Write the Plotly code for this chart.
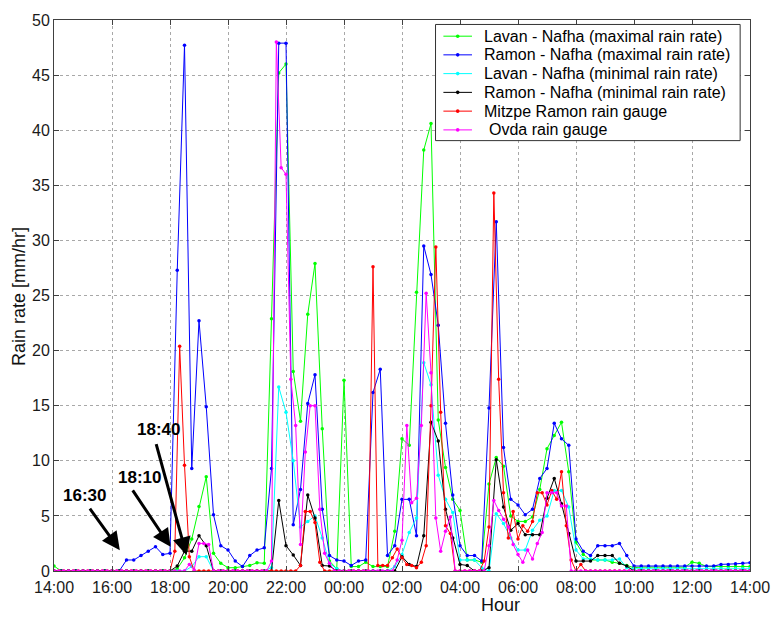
import plotly.graph_objects as go

# ---------------- data ----------------
tick_labels = ["14:00", "16:00", "18:00", "20:00", "22:00", "00:00", "02:00",
               "04:00", "06:00", "08:00", "10:00", "12:00", "14:00"]
tick_hours = [0, 2, 4, 6, 8, 10, 12, 14, 16, 18, 20, 22, 24]

LINK_STEP_MIN = 15   # microwave links sampled every 15 min from 14:00
GAUGE_STEP_MIN = 10  # rain gauges sampled every 10 min from 14:00

# 15-min values, 14:00 -> 14:00 (next day); one row per hour
lavan_max = [
    0.45, 0, 0, 0,        # 14
    0, 0, 0, 0,           # 15
    0, 0, 0, 0,           # 16
    0, 0, 0, 0,           # 17
    0, 0.2, 1.2, 2.9,     # 18
    5.85, 8.55, 1.6, 0.7, # 19
    0.3, 0.3, 0.4, 0.5,   # 20
    0.75, 0.7, 22.9, 45.2,  # 21
    46.0, 18.1, 13.6, 23.3, # 22
    27.9, 12.9, 0.9, 0.2,   # 23
    17.3, 0.4, 0.4, 0.8,    # 00
    0.4, 0.4, 0.4, 3.6,     # 01
    12.0, 11.4, 25.3, 38.2, # 02
    40.6, 13.7, 9.4, 6.5,   # 03
    5.5, 1.0, 1.0, 0.8,     # 04
    7.9, 10.3, 9.5, 5.0,    # 05
    4.5, 4.5, 4.9, 7.4,     # 06
    11.1, 12.3, 13.5, 9.0,  # 07
    2.6, 1.5, 1.0, 1.0,     # 08
    1.0, 0.8, 0.7, 0.5,     # 09
    0.3, 0.35, 0.35, 0.35,  # 10
    0.35, 0.35, 0.35, 0.35, # 11
    0.8, 0.7, 0.4, 0.4,     # 12
    0.4, 0.4, 0.4, 0.4,     # 13
    0.4,                    # 14
]

ramon_max = [
    0, 0, 0, 0,
    0, 0, 0, 0,
    0, 0, 1.0, 1.0,
    1.4, 1.8, 2.2, 1.5,
    1.6, 27.3, 47.7, 9.3,
    22.7, 14.9, 5.1, 2.3,
    1.9, 0.9, 0.4, 1.4,
    1.9, 2.1, 9.3, 47.9,
    47.9, 4.2, 7.4, 15.2,
    17.8, 5.6, 1.4, 1.0,
    0.9, 0.5, 0.9, 1.0,
    16.2, 18.3, 1.4, 2.3,
    6.5, 6.5, 3.2, 29.5,
    26.9, 22.3, 13.4, 6.9,
    2.3, 1.4, 1.4, 0.9,
    14.8, 31.7, 11.2, 6.5,
    6.0, 5.1, 5.6, 8.4,
    9.3, 13.4, 12.0, 11.4,
    2.9, 1.8, 1.4, 2.3,
    2.3, 2.3, 2.5, 1.4,
    0.45, 0.45, 0.45, 0.45,
    0.45, 0.45, 0.45, 0.45,
    0.45, 0.45, 0.45, 0.45,
    0.6, 0.6, 0.65, 0.7,
    0.75,
]

lavan_min = [
    0, 0, 0, 0,
    0, 0, 0, 0,
    0, 0, 0, 0,
    0, 0, 0, 0,
    0, 0, 0, 0.4,
    1.3, 1.3, 0, 0,
    0, 0, 0, 0,
    0, 0, 0.3, 16.7,
    14.4, 10.0, 4.0, 4.5,
    5.0, 3.0, 0.7, 0.2,
    0, 0, 0, 0,
    0, 0, 0, 0.4,
    1.5, 3.5, 4.8, 18.9,
    16.9, 8.7, 6.5, 5.3,
    1.0, 1.0, 1.0, 0.3,
    0, 5.2, 4.3, 3.0,
    1.9, 1.9, 3.7, 4.6,
    5.0, 7.3, 7.3, 5.8,
    1.9, 1.1, 1.1, 1.0,
    1.0, 1.0, 1.1, 0.3,
    0.2, 0.2, 0.2, 0.2,
    0.2, 0.2, 0.2, 0.2,
    0.2, 0.2, 0.2, 0.2,
    0.2, 0.2, 0.2, 0.2,
    0.2,
]

ramon_min = [
    0, 0, 0, 0,
    0, 0, 0, 0,
    0, 0, 0, 0,
    0, 0, 0, 0,
    0, 0.45, 1.8, 1.8,
    3.2, 2.3, 0, 0,
    0, 0, 0, 0,
    0, 0, 0, 6.4,
    2.3, 1.45, 0.5, 6.9,
    4.8, 0.5, 0.45, 0,
    0, 0, 0, 0,
    0, 0, 0, 0,
    1.3, 0.6, 0.4, 3.2,
    13.5, 11.8, 5.6, 3.0,
    0.6, 0.5, 0, 0,
    0.3, 10.1, 5.8, 3.7,
    4.3, 3.3, 3.3, 3.3,
    6.6, 8.4, 6.1, 3.4,
    0.9, 0.9, 0.9, 1.4,
    1.4, 1.4, 0.7, 0.45,
    0, 0, 0, 0,
    0, 0, 0, 0,
    0, 0, 0, 0,
    0, 0, 0, 0,
    0,
]

# 10-min values, 14:00 -> 14:00 (next day); one row per hour
mitzpe_gauge = [
    0, 0, 0, 0, 0, 0,          # 14
    0, 0, 0, 0, 0, 0,          # 15
    0, 0, 0, 0, 0, 0,          # 16
    0, 0, 0, 0, 0, 0,          # 17
    0, 1.8, 20.4, 9.6, 1.3, 0, # 18
    0, 0, 0, 0, 0, 0,          # 19
    0, 0, 0, 0, 0, 0,          # 20
    0, 0, 0, 0, 0, 0,          # 21
    0, 0, 0, 0.5, 5.4, 5.4,    # 22
    4.4, 0.8, 0, 0, 0, 0,      # 23
    0, 0, 0, 0, 0, 0,          # 00
    27.6, 0.5, 0.5, 0.5, 1.2, 2.0,   # 01
    1.2, 0.6, 0.5, 0.3, 0.8, 2.3,    # 02
    15.0, 29.4, 14.4, 4.1, 3.4, 0,   # 03
    0, 0, 0, 0, 0, 0.9,              # 04
    4.0, 34.3, 17.4, 7.1, 3.0, 5.4,  # 05
    2.9, 4.1, 3.6, 4.5, 7.1, 7.1,    # 06
    6.0, 7.3, 6.5, 9.0, 4.1, 1.0,    # 07
    0, 0.6, 0, 0, 0, 0,              # 08
    0, 0, 0, 0, 0, 0,                # 09
    0, 0, 0, 0, 0, 0,                # 10
    0, 0, 0, 0, 0, 0,                # 11
    0, 0, 0, 0, 0, 0,                # 12
    0, 0, 0, 0, 0, 0,                # 13
    0,                               # 14
]

ovda_gauge = [
    0, 0, 0, 0, 0, 0,
    0, 0, 0, 0, 0, 0,
    0, 0, 0, 0, 0, 0,
    0, 0, 0, 0, 0, 0,
    0, 0, 0, 0, 0.6, 0.1,
    2.5, 2.5, 2.4, 0, 0, 0,
    0, 0, 0, 0, 0, 0,
    0, 0, 0, 0.9, 48.0, 36.6,
    36.0, 17.4, 13.2, 2.4, 10.8, 15.0,
    15.0, 5.6, 1.6, 0.7, 0, 0,
    0, 0, 0, 0, 0, 0,
    0, 0, 0, 0, 0, 1.0,
    2.8, 13.2, 6.2, 6.6, 13.2, 25.2,
    18.0, 4.8, 1.8, 3.6, 4.9, 0,
    0, 0, 0, 0, 0, 0,
    2.3, 6.4, 5.5, 4.7, 4.0, 2.4,
    1.5, 0.8, 1.9, 1.1, 2.5, 3.5,
    7.1, 7.1, 7.1, 5.9, 5.9, 0,
    0, 0, 0, 0, 0, 0,
    0, 0, 0, 0, 0, 0,
    0, 0, 0, 0, 0, 0,
    0, 0, 0, 0, 0, 0,
    0, 0, 0, 0, 0, 0,
    0, 0, 0, 0, 0, 0,
    0,
]

series = [
    ("Lavan - Nafha (maximal rain rate)", lavan_max, LINK_STEP_MIN, "#00ff00"),
    ("Ramon - Nafha (maximal rain rate)", ramon_max, LINK_STEP_MIN, "#0000ff"),
    ("Lavan - Nafha (minimal rain rate)", lavan_min, LINK_STEP_MIN, "#00ffff"),
    ("Ramon - Nafha (minimal rain rate)", ramon_min, LINK_STEP_MIN, "#000000"),
    ("Mitzpe Ramon rain gauge", mitzpe_gauge, GAUGE_STEP_MIN, "#ff0000"),
    (" Ovda rain gauge", ovda_gauge, GAUGE_STEP_MIN, "#ff00ff"),
]

# annotations (time in hours since 14:00, value in mm/hr)
arrow_labels = ["16:30", "18:10", "18:40"]
arrow_label_pos = [(1.05, 6.85), (2.96, 8.47), (3.62, 12.8)]
arrow_tail = [(1.20, 5.79), (2.68, 7.45), (3.51, 11.65)]
arrow_tip = [(2.27, 1.89), (4.02, 2.19), (4.57, 1.44)]

# ---------------- figure ----------------
FONT = "Liberation Sans, Arial, Helvetica, sans-serif"
fig = go.Figure()

for name, vals, step, color in series:
    xs = [i * step / 60.0 for i in range(len(vals))]
    fig.add_trace(go.Scatter(
        x=xs, y=vals, mode="lines+markers", name=name,
        line=dict(color=color, width=1),
        marker=dict(color=color, size=3.5),
        showlegend=False,
    ))

# plot area geometry (pixels) for paper-coord helpers
L, R, T, B = 54, 760, 16, 571
W, H = 782, 617


def px(xp):
    return (xp - L) / (R - L)


def py(yp):
    return (B - yp) / (B - T)


shapes = []
annotations = []

# manual legend box
shapes.append(dict(type="rect", xref="paper", yref="paper",
                   x0=px(441), x1=px(750), y0=py(137.5), y1=py(20.5),
                   line=dict(color="#333333", width=1), fillcolor="white",
                   layer="above"))
row_y = [32.3, 51.1, 70.0, 88.9, 107.8, 126.7]
for (name, vals, step, color), ry in zip(series, row_y):
    shapes.append(dict(type="line", xref="paper", yref="paper",
                       x0=px(449), x1=px(478), y0=py(ry), y1=py(ry),
                       line=dict(color=color, width=1), layer="above"))
    shapes.append(dict(type="circle", xref="paper", yref="paper",
                       xsizemode="pixel", ysizemode="pixel",
                       xanchor=px(463.5), yanchor=py(ry),
                       x0=-1.8, x1=1.8, y0=-1.8, y1=1.8,
                       line=dict(color=color, width=0), fillcolor=color,
                       layer="above"))
    shift = 5 if name.startswith(" ") else 0
    annotations.append(dict(xref="paper", yref="paper", x=px(488), y=py(ry),
                            xanchor="left", yanchor="middle", showarrow=False,
                            text=name.strip(), xshift=shift,
                            font=dict(family=FONT, size=16, color="black")))

# arrows
for (tx, ty), (hx, hy) in zip(arrow_tail, arrow_tip):
    annotations.append(dict(x=hx, y=hy, ax=tx, ay=ty, xref="x", yref="y",
                            axref="x", ayref="y", text="", showarrow=True,
                            arrowhead=2, arrowsize=1.2, arrowwidth=3,
                            arrowcolor="black", standoff=0, startstandoff=0))
for lab, (lx, ly) in zip(arrow_labels, arrow_label_pos):
    annotations.append(dict(x=lx, y=ly, xref="x", yref="y", text="<b>%s</b>" % lab,
                            showarrow=False, xanchor="center", yanchor="middle",
                            font=dict(family=FONT, size=17, color="black")))

# axis titles
annotations.append(dict(xref="paper", yref="paper", x=(18.5 - L) / (R - L), y=py(295),
                        text="Rain rate [mm/hr]", textangle=-90, showarrow=False,
                        xanchor="center", yanchor="middle",
                        font=dict(family=FONT, size=18, color="#111111")))
annotations.append(dict(xref="paper", yref="paper", x=px(507), y=py(605),
                        text="Hour", showarrow=False,
                        xanchor="center", yanchor="middle",
                        font=dict(family=FONT, size=18, color="#111111")))

fig.update_layout(
    width=W, height=H,
    margin=dict(l=L, r=W - R, t=T, b=H - B),
    paper_bgcolor="white", plot_bgcolor="white",
    font=dict(family=FONT, size=16, color="#1a1a1a"),
    shapes=shapes, annotations=annotations,
    showlegend=False,
)
fig.update_xaxes(
    range=[0, 24], tickvals=tick_hours, ticktext=tick_labels,
    showgrid=True, gridcolor="#a8a8a8", griddash="dot", gridwidth=1,
    showline=True, linecolor="#404040", linewidth=1, mirror="ticks",
    ticks="inside", ticklen=5, tickcolor="#404040", ticklabelstandoff=2,
    tickfont=dict(family=FONT, size=16, color="#1a1a1a"),
    zeroline=False,
)
fig.update_yaxes(
    range=[0, 50], tickvals=list(range(0, 51, 5)),
    showgrid=True, gridcolor="#a8a8a8", griddash="dot", gridwidth=1,
    showline=True, linecolor="#404040", linewidth=1, mirror="ticks",
    ticks="inside", ticklen=5, tickcolor="#404040",
    tickfont=dict(family=FONT, size=16, color="#1a1a1a"),
    zeroline=False,
)

fig.write_html(
    "out.html",
    config={"displayModeBar": False},
    post_script="document.body.style.margin='0';document.body.style.padding='0';",
)
